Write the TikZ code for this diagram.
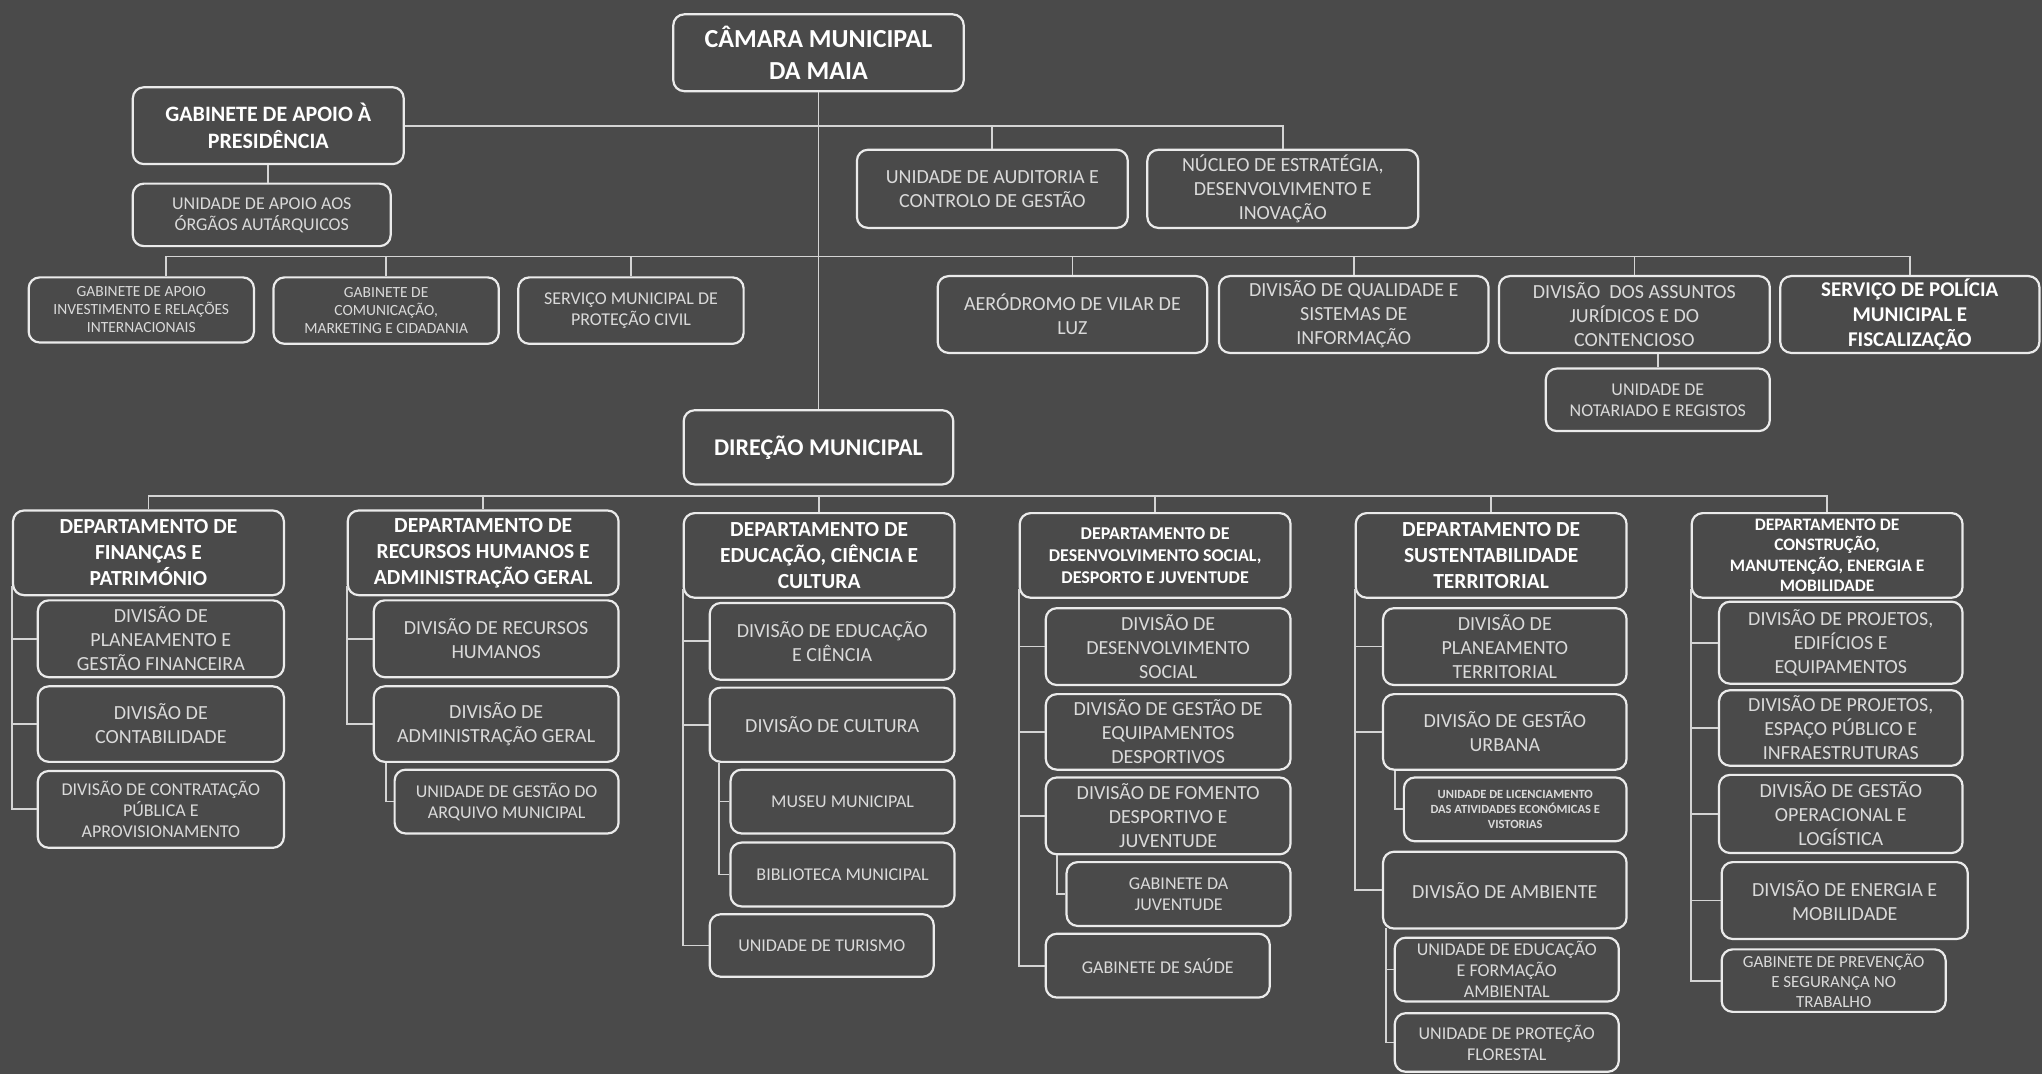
\documentclass[tikz,border=0pt]{standalone}
\usepackage{fontspec}
\setmainfont{Carlito}
\definecolor{bgc}{HTML}{4A4A4A}
\definecolor{edge}{HTML}{EBEBEB}
\definecolor{wire}{HTML}{D4D4D4}
\definecolor{txt}{HTML}{DADADA}

\begin{document}
\begin{tikzpicture}[x=1.3023pt,y=-1.3023pt,
  spot/.style args={#1/#2/#3/#4}{at={({(#1+#3)/2},{(#2+#4)/2})},
    minimum width={(#3-#1)*1.3023pt},minimum height={(#4-#2)*1.3023pt}},
  box/.style={draw=edge,line width=2.2pt,rounded corners=11pt,fill=bgc,inner sep=0pt,align=center,text=txt},
  topbox/.style={box,text=white,font=\bfseries\fontsize{22}{27}\selectfont},
  deptbox/.style={box,text=white,font=\bfseries\fontsize{21.5}{26}\selectfont},
  divbox/.style={box,font=\fontsize{20}{24}\selectfont},
  unitbox/.style={box,font=\fontsize{18}{21}\selectfont},
  minibox/.style={box,font=\fontsize{15.5}{18}\selectfont},
  link/.style={draw=wire,line width=1.8pt}]

\fill[bgc] (0,0) rectangle (1568,825);
\useasboundingbox (0,0) rectangle (1568,825);

% topo
\node[topbox,font=\bfseries\fontsize{26}{32}\selectfont,spot=517/11/740/70] (cam) {CÂMARA MUNICIPAL\\DA MAIA};
\node[topbox,spot=102/67/310/126] (gab) {GABINETE DE APOIO À\\PRESIDÊNCIA};
\node[unitbox,spot=102/141/300/189] (uao) {UNIDADE DE APOIO AOS\\ÓRGÃOS AUTÁRQUICOS};
\node[divbox,spot=658/115/866/175] (aud) {UNIDADE DE AUDITORIA E\\CONTROLO DE GESTÃO};
\node[divbox,spot=881/115/1089/175] (nuc) {NÚCLEO DE ESTRATÉGIA,\\DESENVOLVIMENTO E\\INOVAÇÃO};

% servicos de apoio
\node[minibox,spot=22/213/195/263] (gai) {GABINETE DE APOIO\\INVESTIMENTO E RELAÇÕES\\INTERNACIONAIS};
\node[minibox,spot=210/213/383/264] (gcm) {GABINETE DE\\COMUNICAÇÃO,\\MARKETING E CIDADANIA};
\node[unitbox,spot=398/213/571/264] (spc) {SERVIÇO MUNICIPAL DE\\PROTEÇÃO CIVIL};
\node[divbox,spot=720/212/927/271] (aer) {AERÓDROMO DE VILAR DE\\LUZ};
\node[divbox,spot=936/212/1143/271] (dqs) {DIVISÃO DE QUALIDADE E\\SISTEMAS DE\\INFORMAÇÃO};
\node[divbox,spot=1151/212/1359/271] (daj) {DIVISÃO\ \ DOS ASSUNTOS\\JURÍDICOS E DO\\CONTENCIOSO};
\node[topbox,font=\bfseries\fontsize{21}{25}\selectfont,spot=1367/212/1566/271] (pol) {SERVIÇO DE POLÍCIA\\MUNICIPAL E\\FISCALIZAÇÃO};
\node[unitbox,spot=1187/283/1359/331] (nota) {UNIDADE DE\\NOTARIADO E REGISTOS};

\node[topbox,font=\bfseries\fontsize{24}{28}\selectfont,spot=525/315/732/372] (dir) {DIREÇÃO MUNICIPAL};

% departamentos
\node[deptbox,spot=10/392/218/457] (dp1) {DEPARTAMENTO DE\\FINANÇAS E\\PATRIMÓNIO};
\node[deptbox,spot=267/392/475/457] (dp2) {DEPARTAMENTO DE\\RECURSOS HUMANOS E\\ADMINISTRAÇÃO GERAL};
\node[deptbox,spot=525/394/733/459] (dp3) {DEPARTAMENTO DE\\EDUCAÇÃO, CIÊNCIA E\\CULTURA};
\node[deptbox,font=\bfseries\fontsize{18}{22}\selectfont,spot=783/394/991/459] (dp4) {DEPARTAMENTO DE\\DESENVOLVIMENTO SOCIAL,\\DESPORTO E JUVENTUDE};
\node[deptbox,spot=1041/394/1249/459] (dp5) {DEPARTAMENTO DE\\SUSTENTABILIDADE\\TERRITORIAL};
\node[deptbox,font=\bfseries\fontsize{17.5}{20.5}\selectfont,spot=1299/394/1507/459] (dp6) {DEPARTAMENTO DE\\CONSTRUÇÃO,\\MANUTENÇÃO, ENERGIA E\\MOBILIDADE};

% financas
\node[divbox,spot=29/461/218/520] (d1a) {DIVISÃO DE\\PLANEAMENTO E\\GESTÃO FINANCEIRA};
\node[divbox,spot=29/527/218/585] (d1b) {DIVISÃO DE\\CONTABILIDADE};
\node[unitbox,spot=29/592/218/651] (d1c) {DIVISÃO DE CONTRATAÇÃO\\PÚBLICA E\\APROVISIONAMENTO};

% recursos humanos
\node[divbox,spot=287/461/475/520] (d2a) {DIVISÃO DE RECURSOS\\HUMANOS};
\node[divbox,spot=287/527/475/585] (d2b) {DIVISÃO DE\\ADMINISTRAÇÃO GERAL};
\node[unitbox,spot=303/591/475/640] (d2c) {UNIDADE DE GESTÃO DO\\ARQUIVO MUNICIPAL};

% educacao
\node[divbox,spot=545/463/733/522] (d3a) {DIVISÃO DE EDUCAÇÃO\\E CIÊNCIA};
\node[divbox,spot=545/528/733/585] (d3b) {DIVISÃO DE CULTURA};
\node[unitbox,spot=561/591/733/640] (d3c) {MUSEU MUNICIPAL};
\node[unitbox,spot=561/647/733/696] (d3d) {BIBLIOTECA MUNICIPAL};
\node[unitbox,spot=545/702/717/750] (d3e) {UNIDADE DE TURISMO};

% desenvolvimento social
\node[divbox,spot=803/467/991/526] (d4a) {DIVISÃO DE\\DESENVOLVIMENTO\\SOCIAL};
\node[divbox,spot=803/533/991/591] (d4b) {DIVISÃO DE GESTÃO DE\\EQUIPAMENTOS\\DESPORTIVOS};
\node[divbox,spot=803/597/991/656] (d4c) {DIVISÃO DE FOMENTO\\DESPORTIVO E\\JUVENTUDE};
\node[unitbox,spot=819/662/991/711] (d4d) {GABINETE DA\\JUVENTUDE};
\node[unitbox,spot=803/717/975/766] (d4e) {GABINETE DE SAÚDE};

% sustentabilidade
\node[divbox,spot=1062/467/1249/526] (d5a) {DIVISÃO DE\\PLANEAMENTO\\TERRITORIAL};
\node[divbox,spot=1062/533/1249/591] (d5b) {DIVISÃO DE GESTÃO\\URBANA};
\node[minibox,font=\bfseries\fontsize{12.5}{15}\selectfont,spot=1078/597/1249/646] (d5c) {UNIDADE DE LICENCIAMENTO\\DAS ATIVIDADES ECONÓMICAS E\\VISTORIAS};
\node[divbox,spot=1062/654/1249/713] (d5d) {DIVISÃO DE AMBIENTE};
\node[unitbox,spot=1071/720/1243/769] (d5e) {UNIDADE DE EDUCAÇÃO\\E FORMAÇÃO\\AMBIENTAL};
\node[unitbox,spot=1071/778/1243/823] (d5f) {UNIDADE DE PROTEÇÃO\\FLORESTAL};

% construcao
\node[divbox,spot=1320/462/1507/525] (d6a) {DIVISÃO DE PROJETOS,\\EDIFÍCIOS E\\EQUIPAMENTOS};
\node[divbox,spot=1320/530/1507/588] (d6b) {DIVISÃO DE PROJETOS,\\ESPAÇO PÚBLICO E\\INFRAESTRUTURAS};
\node[divbox,spot=1320/595/1507/655] (d6c) {DIVISÃO DE GESTÃO\\OPERACIONAL E\\LOGÍSTICA};
\node[divbox,spot=1322/662/1511/721] (d6d) {DIVISÃO DE ENERGIA E\\MOBILIDADE};
\node[unitbox,font=\fontsize{17}{20}\selectfont,spot=1322/729/1494/777] (d6e) {GABINETE DE PREVENÇÃO\\E SEGURANÇA NO\\TRABALHO};

% ligacoes
\coordinate (bus1) at (0,197);
\coordinate (bus2) at (0,381);

\draw[link] (cam.south) -- (dir.north);
\draw[link] (gab.east) -| (nuc.north);
\draw[link] (aud.north) -- (aud.north |- gab.east);
\draw[link] (gab.south) -- (uao.north -| gab.south);

\draw[link] ([xshift=25pt]gai.north) |- (bus1 -| pol.north) -- (pol.north);
\foreach \n in {gcm,spc,aer,dqs,daj}
  \draw[link] (\n.north) -- (\n.north |- bus1);
\draw[link] (daj.south -| nota.north) -- (nota.north);

\draw[link] (dp1.north) |- (bus2 -| dp6.north) -- (dp6.north);
\foreach \n in {dp2,dp3,dp4,dp5}
  \draw[link] (\n.north) -- (\n.north |- bus2);

\foreach \n in {d1a,d1b,d1c}
  \draw[link] ([yshift=10pt]dp1.south west) |- (\n.west);
\foreach \n in {d2a,d2b}
  \draw[link] ([yshift=10pt]dp2.south west) |- (\n.west);
\draw[link] ([xshift=13pt]d2b.south west) |- (d2c.west);
\foreach \n in {d3a,d3b,d3e}
  \draw[link] ([yshift=10pt]dp3.south west) |- (\n.west);
\foreach \n in {d3c,d3d}
  \draw[link] ([xshift=10pt]d3b.south west) |- (\n.west);
\foreach \n in {d4a,d4b,d4c,d4e}
  \draw[link] ([yshift=10pt]dp4.south west) |- (\n.west);
\draw[link] ([xshift=12pt]d4c.south west) |- (d4d.west);
\foreach \n in {d5a,d5b,d5d}
  \draw[link] ([yshift=10pt]dp5.south west) |- (\n.west);
\draw[link] ([xshift=13pt]d5b.south west) |- (d5c.west);
\foreach \n in {d5e,d5f}
  \draw[link] ([xshift=4pt,yshift=2pt]d5d.south west) |- (\n.west);
\foreach \n in {d6a,d6b,d6c,d6d,d6e}
  \draw[link] ([yshift=10pt]dp6.south west) |- (\n.west);

\end{tikzpicture}
\end{document}
